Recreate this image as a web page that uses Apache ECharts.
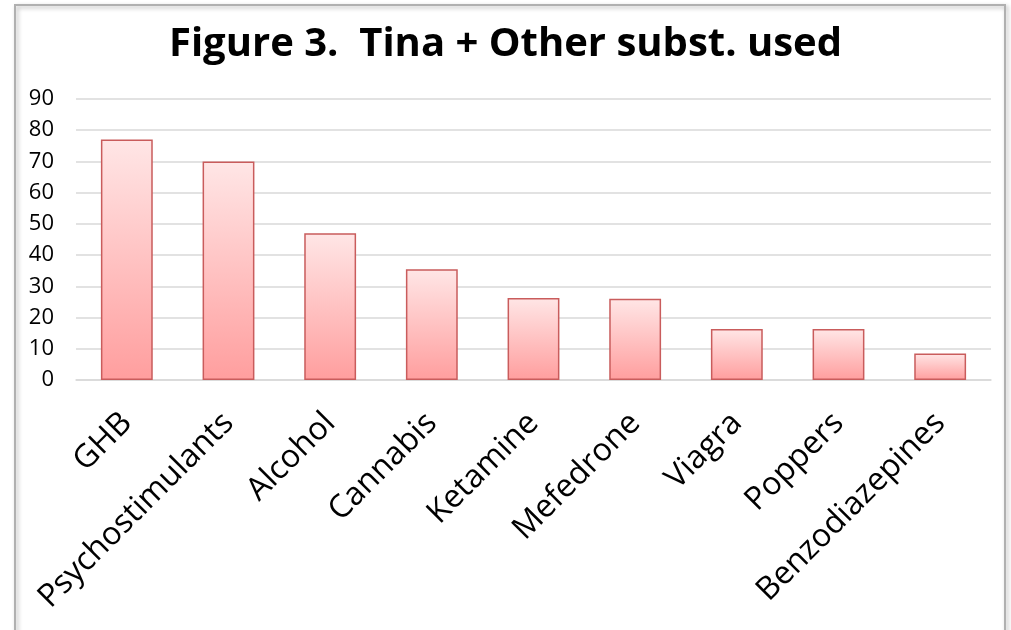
<!DOCTYPE html>
<html><head><meta charset="utf-8">
<script src="https://cdn.jsdelivr.net/npm/echarts@6/dist/echarts.min.js"></script>
<style>html,body{margin:0;padding:0;background:#fff}#c{width:1011px;height:630px}</style>
</head><body><div id="c"></div>
<script>
var categories = ['GHB','Psychostimulants','Alcohol','Cannabis','Ketamine','Mefedrone','Viagra','Poppers','Benzodiazepines'];
var values = [77, 70, 47, 35.5, 26.3, 26, 16.3, 16.3, 8.5];
var yTicks = [0,10,20,30,40,50,60,70,80,90];
var chart = echarts.init(document.getElementById('c'));
chart.setOption({
  animation:false,
  graphic:[{type:'rect',shape:{x:15,y:5,width:990,height:640},style:{fill:'none',stroke:'#b0b0b0',lineWidth:2,shadowBlur:4,shadowColor:'rgba(0,0,0,0.3)',shadowOffsetX:2,shadowOffsetY:2},z:-1}],
  title:{text:'Figure 3.  Tina + Other subst. used',left:'center',top:20,textStyle:{fontFamily:'Open Sans',fontWeight:'bold',fontSize:40,color:'#000'}},
  grid:{left:76,right:20,top:99,bottom:250,containLabel:false},
  xAxis:{type:'category',data:categories,axisTick:{show:false},axisLine:{lineStyle:{color:'#d9d9d9',width:1.5}},
    axisLabel:{rotate:45,margin:38,fontFamily:'Open Sans',fontSize:32,color:'#000',interval:0}},
  yAxis:{type:'value',min:yTicks[0],max:yTicks[yTicks.length-1],interval:10,
    axisLabel:{fontFamily:'Open Sans',fontSize:22,color:'#000',margin:22},
    splitLine:{lineStyle:{color:'#d9d9d9',width:1.5}},axisLine:{show:false},axisTick:{show:false}},
  series:[{type:'bar',data:values,barWidth:'51%',
    itemStyle:{borderColor:'#c95c5c',borderWidth:1.5,
      color:new echarts.graphic.LinearGradient(0,0,0,1,[{offset:0,color:'#ffe6e6'},{offset:1,color:'#ff9e9e'}])}}]
});
</script></body></html>
